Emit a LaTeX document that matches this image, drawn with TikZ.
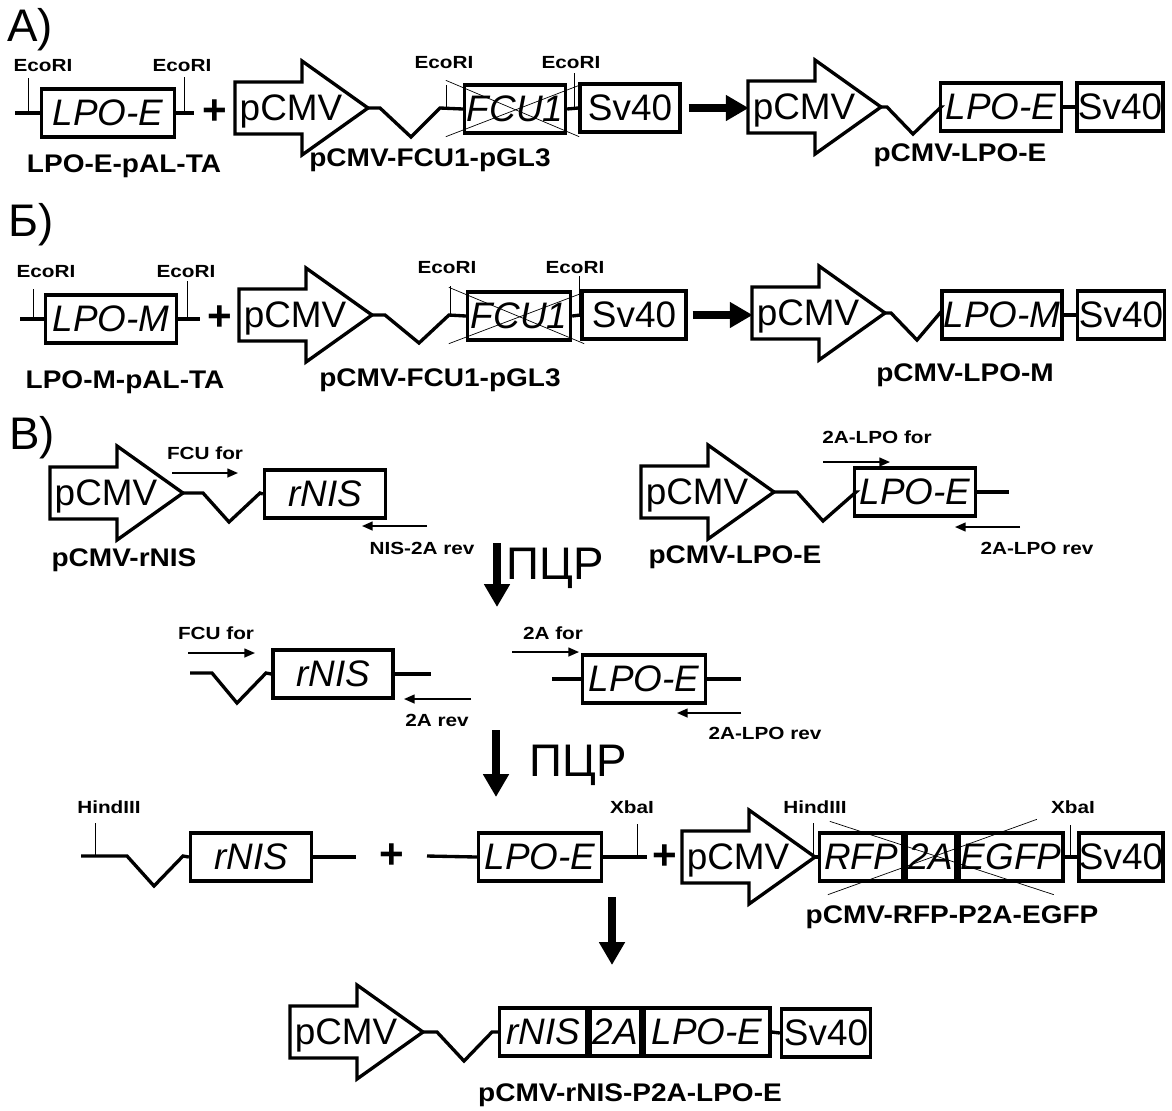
\documentclass[tikz,border=0pt]{standalone}
\usepackage{fontspec}
\setmainfont{Liberation Sans}
\newfontfamily\sitefont[FakeStretch=1.18]{Liberation Sans}
\newfontfamily\namefont[FakeStretch=1.1]{Liberation Sans}
\usetikzlibrary{arrows.meta,calc,positioning}

\tikzset{
  bigtext/.style={inner sep=0pt,font=\fontsize{21}{21}\selectfont},
  hugetext/.style={inner sep=0pt,font=\fontsize{26}{26}\selectfont},
  plustext/.style={inner sep=0pt,font=\fontsize{24}{24}\selectfont\bfseries},
  gene/.style={draw,line width=1.9pt,inner sep=0pt,minimum height=0.96cm,
    minimum width=#1,font=\fontsize{21}{21}\selectfont\itshape},
  term/.style={gene=#1,font=\fontsize{21}{21}\selectfont},
  vecname/.style={inner sep=0pt,font=\namefont\bfseries\fontsize{14.5}{14}\selectfont},
  site/.style={inner sep=0pt,font=\sitefont\bfseries\fontsize{10}{10}\selectfont},
  dna/.style={line width=1.9pt,line join=miter},
  tick/.style={line width=0.5pt},
  cross/.style={line width=0.4pt},
  primer/.style={line width=0.9pt,-{Triangle[length=6pt,width=5pt]}},
  step arrow/.style={line width=4pt,-{Triangle[length=13pt,width=14pt]}},
  pcmv/.pic={
    \draw[dna] (0,-26) -- (67,-26) -- (67,-47) -- (133,0) -- (67,47)
      -- (67,26) -- (0,26) -- cycle;
    \node[bigtext,text depth=0pt] (-txt) at (56,0) {pCMV};
    \coordinate (-tip) at (133,0);
  }
}

\begin{document}
\begin{tikzpicture}[x=0.02cm,y=-0.02cm]
  \useasboundingbox (0,0) rectangle (1172,1110);

  % A)
  \node[hugetext] (hA) at (30,30) {А)};
  \node[gene=2.66cm] (lpoA) at (108,113) {LPO-E};
  \draw[dna] (15,113) -- (lpoA.west);
  \draw[dna] (lpoA.east) -- ++(18,0) coordinate (lpoAr);
  \node[site] (eA1) at (43,66) {EcoRI};
  \node[site] (eA2) at (182,66) {EcoRI};
  \draw[tick] (lpoA.west) ++(-11,0) -- ++(0,-35);
  \draw[tick] (lpoA.east) ++(8,0) -- ++(0,-36);
  \node[plustext] (plA) at (215,112) {+};
  \node[vecname] at (124,166) {LPO-E-pAL-TA};

  \pic (pA) at (235,108) {pcmv};
  \node[gene=2.02cm] (fcuA) at (515,109) {FCU1};
  \draw[dna] (pA-tip) -- ++(12,0) -- ++(31,29) -- ++(29,-29) -- (fcuA.west);
  \draw[cross] ($(fcuA.north west)+(-17,-3)$) -- ($(fcuA.south east)+(12,2)$);
  \draw[cross] ($(fcuA.south west)+(-17,2)$) -- ($(fcuA.north east)+(12,2)$);
  \node[site] (eA3) at (444,63) {EcoRI};
  \node[site] (eA4) at (571,63) {EcoRI};
  \draw[tick] (fcuA.west) ++(-16,0) -- ++(0,-24);
  \draw[tick] (fcuA.east) ++(7,0) -- ++(0,-36);
  \node[term=2.0cm] (svA) at (630,108) {Sv40};
  \draw[dna] (fcuA.east) -- (svA.west);
  \node[vecname] at (430,160) {pCMV-FCU1-pGL3};

  \draw[step arrow] (svA.east) ++(7,0) -- ++(60,0);

  \pic (pA2) at (748,107) {pcmv};
  \node[gene=2.42cm] (lpoA2) at (1001,107) {LPO-E};
  \draw[dna] (pA2-tip) -- ++(6,0) -- ++(26,27) -- ++(28,-27) -- (lpoA2.west);
  \node[term=1.72cm] (svA2) at (1120,107) {Sv40};
  \draw[dna] (lpoA2.east) -- (svA2.west);
  \node[vecname] at (960,155) {pCMV-LPO-E};

  % B)
  \node[hugetext] (hB) at (31,225) {Б)};
  \node[gene=2.62cm] (lpoM) at (111,319) {LPO-M};
  \draw[dna] (20,319) -- (lpoM.west);
  \draw[dna] (lpoM.east) -- ++(22,0);
  \node[site] (eB1) at (46,272) {EcoRI};
  \node[site] (eB2) at (186,272) {EcoRI};
  \draw[tick] (lpoM.west) ++(-10,0) -- ++(0,-30);
  \draw[tick] (lpoM.east) ++(9,0) -- ++(0,-38);
  \node[plustext] (plB) at (220,318) {+};
  \node[vecname] at (125,382) {LPO-M-pAL-TA};

  \pic (pB) at (239,315) {pcmv};
  \node[gene=2.06cm] (fcuB) at (519,316) {FCU1};
  \draw[dna] (pB-tip) -- ++(13,0) -- ++(34,28) -- ++(30,-28) -- (fcuB.west);
  \draw[cross] ($(fcuB.north west)+(-17,-3)$) -- ($(fcuB.south east)+(12,2)$);
  \draw[cross] ($(fcuB.south west)+(-17,2)$) -- ($(fcuB.north east)+(12,2)$);
  \node[site] (eB3) at (447,268) {EcoRI};
  \node[site] (eB4) at (575,268) {EcoRI};
  \draw[tick] (fcuB.west) ++(-15,0) -- ++(0,-30);
  \draw[tick] (fcuB.east) ++(7,0) -- ++(0,-40);
  \node[term=2.08cm] (svB) at (634,315) {Sv40};
  \draw[dna] (fcuB.east) -- (svB.west);
  \node[vecname] at (440,380) {pCMV-FCU1-pGL3};

  \draw[step arrow] (svB.east) ++(5,0) -- ++(60,0);

  \pic (pB2) at (752,313) {pcmv};
  \node[gene=2.4cm] (lpoM2) at (1002,315) {LPO-M};
  \draw[dna] (pB2-tip) -- ++(6,0) -- ++(26,27) -- ++(23,-27) -- (lpoM2.west);
  \node[term=1.74cm] (svB2) at (1121,315) {Sv40};
  \draw[dna] (lpoM2.east) -- (svB2.west);
  \node[vecname] at (965,375) {pCMV-LPO-M};

  % C)
  \node[hugetext] (hC) at (32,438) {В)};
  \pic (pC) at (50,493) {pcmv};
  \node[gene=2.42cm] (rnisC) at (325,494) {rNIS};
  \draw[dna] (pC-tip) -- ++(20,0) -- ++(26,29) -- ++(31,-29) -- (rnisC.west);
  \node[site] (fcuF1) at (205,453) {FCU for};
  \draw[primer] (172,473) -- (238,473);
  \draw[primer] (427,526) -- (362,526);
  \node[site] (nisR) at (422,548) {NIS-2A rev};
  \node[vecname] at (124,560) {pCMV-rNIS};

  \pic (pC2) at (641,492) {pcmv};
  \node[gene=2.42cm] (lpoC) at (915,492) {LPO-E};
  \draw[dna] (pC2-tip) -- ++(23,0) -- ++(26,29) -- ++(33,-29) -- (lpoC.west);
  \draw[dna] (lpoC.east) -- ++(32,0);
  \node[site] (lpoF) at (877,437) {2A-LPO for};
  \draw[primer] (823,462) -- (890,462);
  \draw[primer] (1020,527) -- (955,527);
  \node[site] (lpoR1) at (1037,548) {2A-LPO rev};
  \node[vecname] at (735,557) {pCMV-LPO-E};

  \draw[step arrow] (497,543) -- (497,607);
  \node[hugetext] (pcr1) at (555,568) {ПЦР};

  % PCR products
  \node[gene=2.4cm] (rnisD) at (333,674) {rNIS};
  \draw[dna] (190,673) -- (212,673) -- (237,703) -- (266,673) -- (rnisD.west);
  \draw[dna] (rnisD.east) -- ++(36,0);
  \node[site] (fcuF2) at (216,633) {FCU for};
  \draw[primer] (188,653) -- (255,653);
  \draw[primer] (471,699) -- (404,699);
  \node[site] (aR) at (437,720) {2A rev};

  \node[gene=2.46cm] (lpoD) at (644,679) {LPO-E};
  \draw[dna] (552,679) -- (lpoD.west);
  \draw[dna] (lpoD.east) -- ++(34,0);
  \node[site] (aF) at (553,633) {2A for};
  \draw[primer] (512,652) -- (579,652);
  \draw[primer] (741,713) -- (677,713);
  \node[site] (lpoR2) at (765,733) {2A-LPO rev};

  \draw[step arrow] (496,730) -- (496,797);
  \node[hugetext] (pcr2) at (578,765) {ПЦР};

  % cloning
  \node[gene=2.42cm] (rnisE) at (251,857) {rNIS};
  \draw[dna] (81,856) -- (127,856) -- (154,886) -- (183,856) -- (rnisE.west);
  \draw[dna] (rnisE.east) -- ++(43,0);
  \node[site] (hE1) at (109,807) {HindIII};
  \draw[tick] (95,856) -- (95,823);
  \node[plustext] (plC) at (392,856) {+};
  \node[gene=2.46cm] (lpoE) at (540,857) {LPO-E};
  \draw[dna] (427,856) -- (lpoE.west);
  \draw[dna] (lpoE.east) -- ++(44,0);
  \node[site] (xE1) at (632,807) {XbaI};
  \draw[tick] (lpoE.east) ++(34,0) -- ++(0,-33);
  \node[plustext] (plD) at (665,857) {+};

  \pic (pE) at (682,857) {pcmv};
  \node[gene=1.66cm] (rfp) at (861,857) {RFP};
  \node[gene=1.0cm,right=0pt of rfp] (p2a) {2A};
  \node[gene=2.08cm,right=0pt of p2a] (egfp) {EGFP};
  \draw[dna] (pE-tip) -- (rfp.west);
  \node[term=1.66cm] (svE) at (1121,857) {Sv40};
  \draw[dna] (egfp.east) -- (svE.west);
  \draw[cross] ($(rfp.north west)+(12,-10)$) -- ($(egfp.south east)+(-11,12)$);
  \draw[cross] ($(rfp.south west)+(10,12)$) -- ($(egfp.north east)+(-28,-12)$);
  \node[site] (hE2) at (815,807) {HindIII};
  \draw[tick] (rfp.west) ++(-4,0) -- ++(0,-34);
  \node[site] (xE2) at (1073,807) {XbaI};
  \draw[tick] (egfp.east) ++(6,0) -- ++(0,-32);
  \node[vecname] at (952,917) {pCMV-RFP-P2A-EGFP};

  \draw[step arrow] (612,897) -- (612,965);

  % result
  \pic (pF) at (290,1032) {pcmv};
  \node[gene=1.74cm] (rnisF) at (543,1032) {rNIS};
  \node[gene=1.02cm,right=0pt of rnisF] (p2aF) {2A};
  \node[gene=2.52cm,right=0pt of p2aF] (lpoF) {LPO-E};
  \draw[dna] (pF-tip) -- ++(14,0) -- ++(27,29) -- ++(28,-29) -- (rnisF.west);
  \node[term=1.78cm] (svF) at (826,1033) {Sv40};
  \draw[dna] (lpoF.east) -- (svF.west);
  \node[vecname] at (630,1095) {pCMV-rNIS-P2A-LPO-E};
\end{tikzpicture}
\end{document}
